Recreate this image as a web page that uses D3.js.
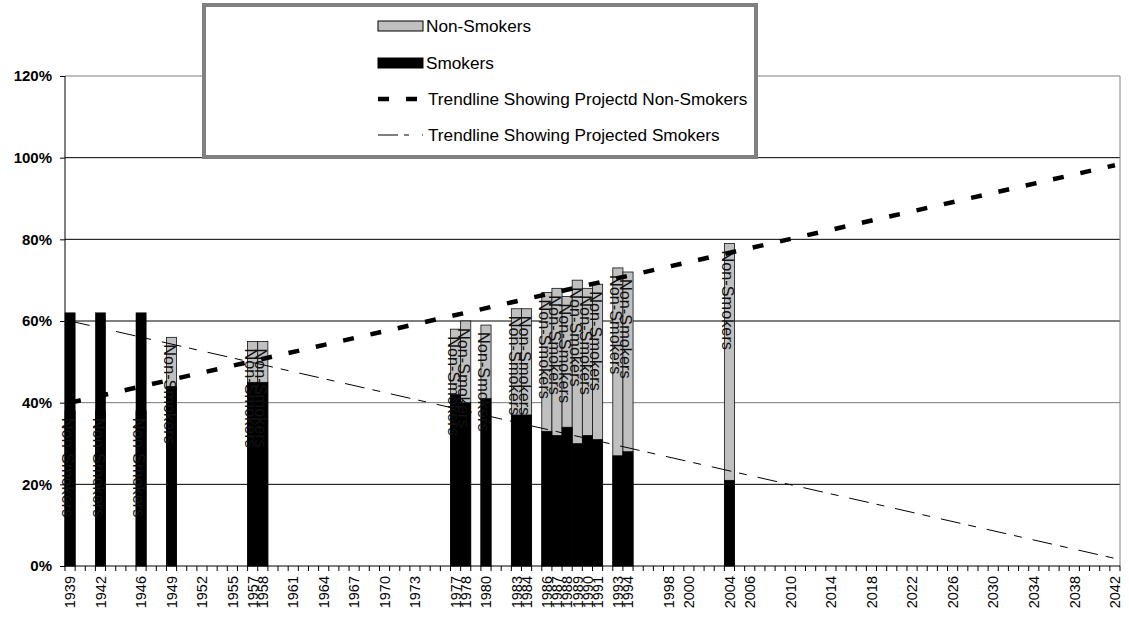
<!DOCTYPE html>
<html>
<head>
<meta charset="utf-8">
<script src="https://cdn.jsdelivr.net/npm/d3@7"></script>
<style>
  html, body { margin: 0; padding: 0; background: #fff; }
  svg { display: block; font-family: "Liberation Sans", Arial, sans-serif; }
</style>
</head>
<body>
<svg id="chart" width="1129" height="618"></svg>
<script>
// Survey years and the share (%) of smokers / non-smokers in each
const surveyYears = [1939, 1942, 1946, 1949, 1957, 1958, 1977, 1978, 1980, 1983,
                     1984, 1986, 1987, 1988, 1989, 1990, 1991, 1993, 1994, 2004];
const smokers     = [62, 62, 62, 44, 45, 45, 42, 40, 41, 37,
                     37, 33, 32, 34, 30, 32, 31, 27, 28, 21];
const nonSmokers  = [38, 38, 38, 56, 55, 55, 58, 60, 59, 63,
                     63, 67, 68, 66, 70, 68, 69, 73, 72, 79];

// Category axis runs one slot per year; only some years carry a label
const firstYear = 1939;
const lastYear = 2042;
const axisLabelYears = [1939, 1942, 1946, 1949, 1952, 1955, 1957, 1958, 1961, 1964,
                        1967, 1970, 1973, 1977, 1978, 1980, 1983, 1984, 1986, 1987,
                        1988, 1989, 1990, 1991, 1993, 1994, 1998, 2000, 2004, 2006,
                        2010, 2014, 2018, 2022, 2026, 2030, 2034, 2038, 2042];
const yTicks = [0, 20, 40, 60, 80, 100, 120];

const seriesNames = ["Non-Smokers", "Smokers",
                     "Trendline Showing Projectd Non-Smokers",
                     "Trendline Showing Projected Smokers"];

const svg = d3.select("#chart");
const plot = { left: 65, right: 1120, top: 76, bottom: 566 };

const allYears = d3.range(firstYear, lastYear + 1);
const x = d3.scaleBand().domain(allYears).range([plot.left, plot.right]).padding(0);
const xEdge = d3.scaleLinear().domain([firstYear, lastYear + 1]).range([plot.left, plot.right]);
const y = d3.scaleLinear().domain([0, 120]).range([plot.bottom, plot.top]);
const cx = yr => x(yr) + x.bandwidth() / 2;

const rows = surveyYears.map((yr, i) => ({ year: yr, smokers: smokers[i], nonSmokers: nonSmokers[i] }));

// Least-squares straight line through the survey points, extended to the last year
function linearFit(xs, ys) {
  const mx = d3.mean(xs), my = d3.mean(ys);
  let sxy = 0, sxx = 0;
  xs.forEach((v, i) => { sxy += (v - mx) * (ys[i] - my); sxx += (v - mx) * (v - mx); });
  const slope = sxy / sxx;
  return t => my + slope * (t - mx);
}
const smokerTrend = linearFit(surveyYears, smokers);
const nonSmokerTrend = linearFit(surveyYears, nonSmokers);

// Horizontal gridlines
svg.append("g")
  .selectAll("line")
  .data(yTicks.filter(v => v > 0 && v < 120))
  .join("line")
  .attr("x1", plot.left).attr("x2", plot.right)
  .attr("y1", d => y(d)).attr("y2", d => y(d))
  .attr("stroke", d => d === 40 ? "#7a7a7a" : "#000").attr("stroke-width", 1);

// Plot frame: top and right sides in grey
svg.append("path")
  .attr("d", `M${plot.left},${y(120)}H${plot.right}V${plot.bottom}`)
  .attr("fill", "none").attr("stroke", "#808080").attr("stroke-width", 1);

// Non-smoker columns sit behind, smoker columns overlap them from the baseline
svg.append("g")
  .selectAll("rect")
  .data(rows)
  .join("rect")
  .attr("x", d => x(d.year)).attr("width", x.bandwidth())
  .attr("y", d => y(d.nonSmokers)).attr("height", d => y(0) - y(d.nonSmokers))
  .attr("fill", "#c0c0c0").attr("stroke", "#111").attr("stroke-width", 0.8);

svg.append("g")
  .selectAll("rect")
  .data(rows)
  .join("rect")
  .attr("x", d => x(d.year)).attr("width", x.bandwidth())
  .attr("y", d => y(d.smokers)).attr("height", d => y(0) - y(d.smokers))
  .attr("fill", "#000").attr("stroke", "#000").attr("stroke-width", 0.6);

// Series-name labels at the inside end of each non-smoker column
svg.append("g")
  .selectAll("text")
  .data(rows)
  .join("text")
  .attr("transform", d => `translate(${cx(d.year)},${y(d.nonSmokers) + 7}) rotate(90)`)
  .attr("dy", "0.47em")
  .attr("font-size", 16.3)
  .attr("fill", "#111")
  .text(seriesNames[0]);

// Axes
const yAxis = svg.append("g")
  .attr("transform", `translate(${plot.left},0)`)
  .call(d3.axisLeft(y).tickValues(yTicks).tickSize(5).tickPadding(8).tickFormat(d => d + "%"));
yAxis.select(".domain").attr("stroke", "#000").attr("d", `M0,${plot.top}V${plot.bottom}`);
yAxis.selectAll(".tick line").attr("stroke", "#000");
yAxis.selectAll(".tick text")
  .attr("font-family", "Liberation Sans, Arial, sans-serif")
  .attr("font-size", 15).attr("font-weight", "bold").attr("fill", "#000");

const xAxis = svg.append("g")
  .attr("transform", `translate(0,${plot.bottom})`);
xAxis.append("line")
  .attr("x1", plot.left).attr("x2", plot.right)
  .attr("stroke", "#000");
xAxis.selectAll("line.yeartick")
  .data(d3.range(firstYear, lastYear + 2))
  .join("line")
  .attr("class", "yeartick")
  .attr("x1", d => xEdge(d)).attr("x2", d => xEdge(d))
  .attr("y1", 0).attr("y2", 5)
  .attr("stroke", "#000");
const xLabels = svg.append("g")
  .attr("transform", `translate(0,${plot.bottom})`)
  .call(d3.axisBottom(x).tickValues(axisLabelYears).tickSize(0));
xLabels.select(".domain").remove();
xLabels.selectAll(".tick text")
  .attr("font-family", "Liberation Sans, Arial, sans-serif")
  .attr("font-size", 14.5).attr("fill", "#000")
  .attr("transform", "rotate(-90)")
  .attr("text-anchor", "end")
  .attr("x", -10).attr("y", 0).attr("dy", "0.36em");

// Trendlines
const trendEnds = [firstYear, lastYear];
const trendLine = d3.line().x(d => cx(d[0])).y(d => y(d[1]));
svg.append("path")
  .attr("d", trendLine(trendEnds.map(t => [t, nonSmokerTrend(t)])))
  .attr("fill", "none").attr("stroke", "#000")
  .attr("stroke-width", 4.5).attr("stroke-dasharray", "11,17");
svg.append("path")
  .attr("d", trendLine(trendEnds.map(t => [t, smokerTrend(t)])))
  .attr("fill", "none").attr("stroke", "#000")
  .attr("stroke-width", 1).attr("stroke-dasharray", "20,8,8,11");

// Legend
const legend = svg.append("g");
legend.append("rect")
  .attr("x", 204).attr("y", 5).attr("width", 552).attr("height", 152)
  .attr("fill", "#fff").attr("stroke", "#808080").attr("stroke-width", 4);

const lx = 378, lw = 45, tx = 427;
const rowY = [26, 63, 99, 135];
legend.append("rect").attr("x", lx).attr("y", rowY[0] - 5).attr("width", lw).attr("height", 10)
  .attr("fill", "#c0c0c0").attr("stroke", "#000").attr("stroke-width", 1);
legend.append("rect").attr("x", lx).attr("y", rowY[1] - 5).attr("width", lw).attr("height", 10)
  .attr("fill", "#000").attr("stroke", "#000").attr("stroke-width", 1);
legend.append("line").attr("x1", lx).attr("x2", lx + lw).attr("y1", rowY[2]).attr("y2", rowY[2])
  .attr("stroke", "#000").attr("stroke-width", 4.5).attr("stroke-dasharray", "11,17");
legend.append("line").attr("x1", lx).attr("x2", lx + lw).attr("y1", rowY[3]).attr("y2", rowY[3])
  .attr("stroke", "#000").attr("stroke-width", 1).attr("stroke-dasharray", "20,6,5,13");

legend.selectAll("text.item")
  .data(seriesNames)
  .join("text")
  .attr("class", "item")
  .attr("x", (d, i) => i < 2 ? tx - 1 : tx + 1)
  .attr("y", (d, i) => rowY[i])
  .attr("dy", "0.35em")
  .attr("font-size", 17.2)
  .attr("fill", "#000")
  .text(d => d);
</script>
</body>
</html>
